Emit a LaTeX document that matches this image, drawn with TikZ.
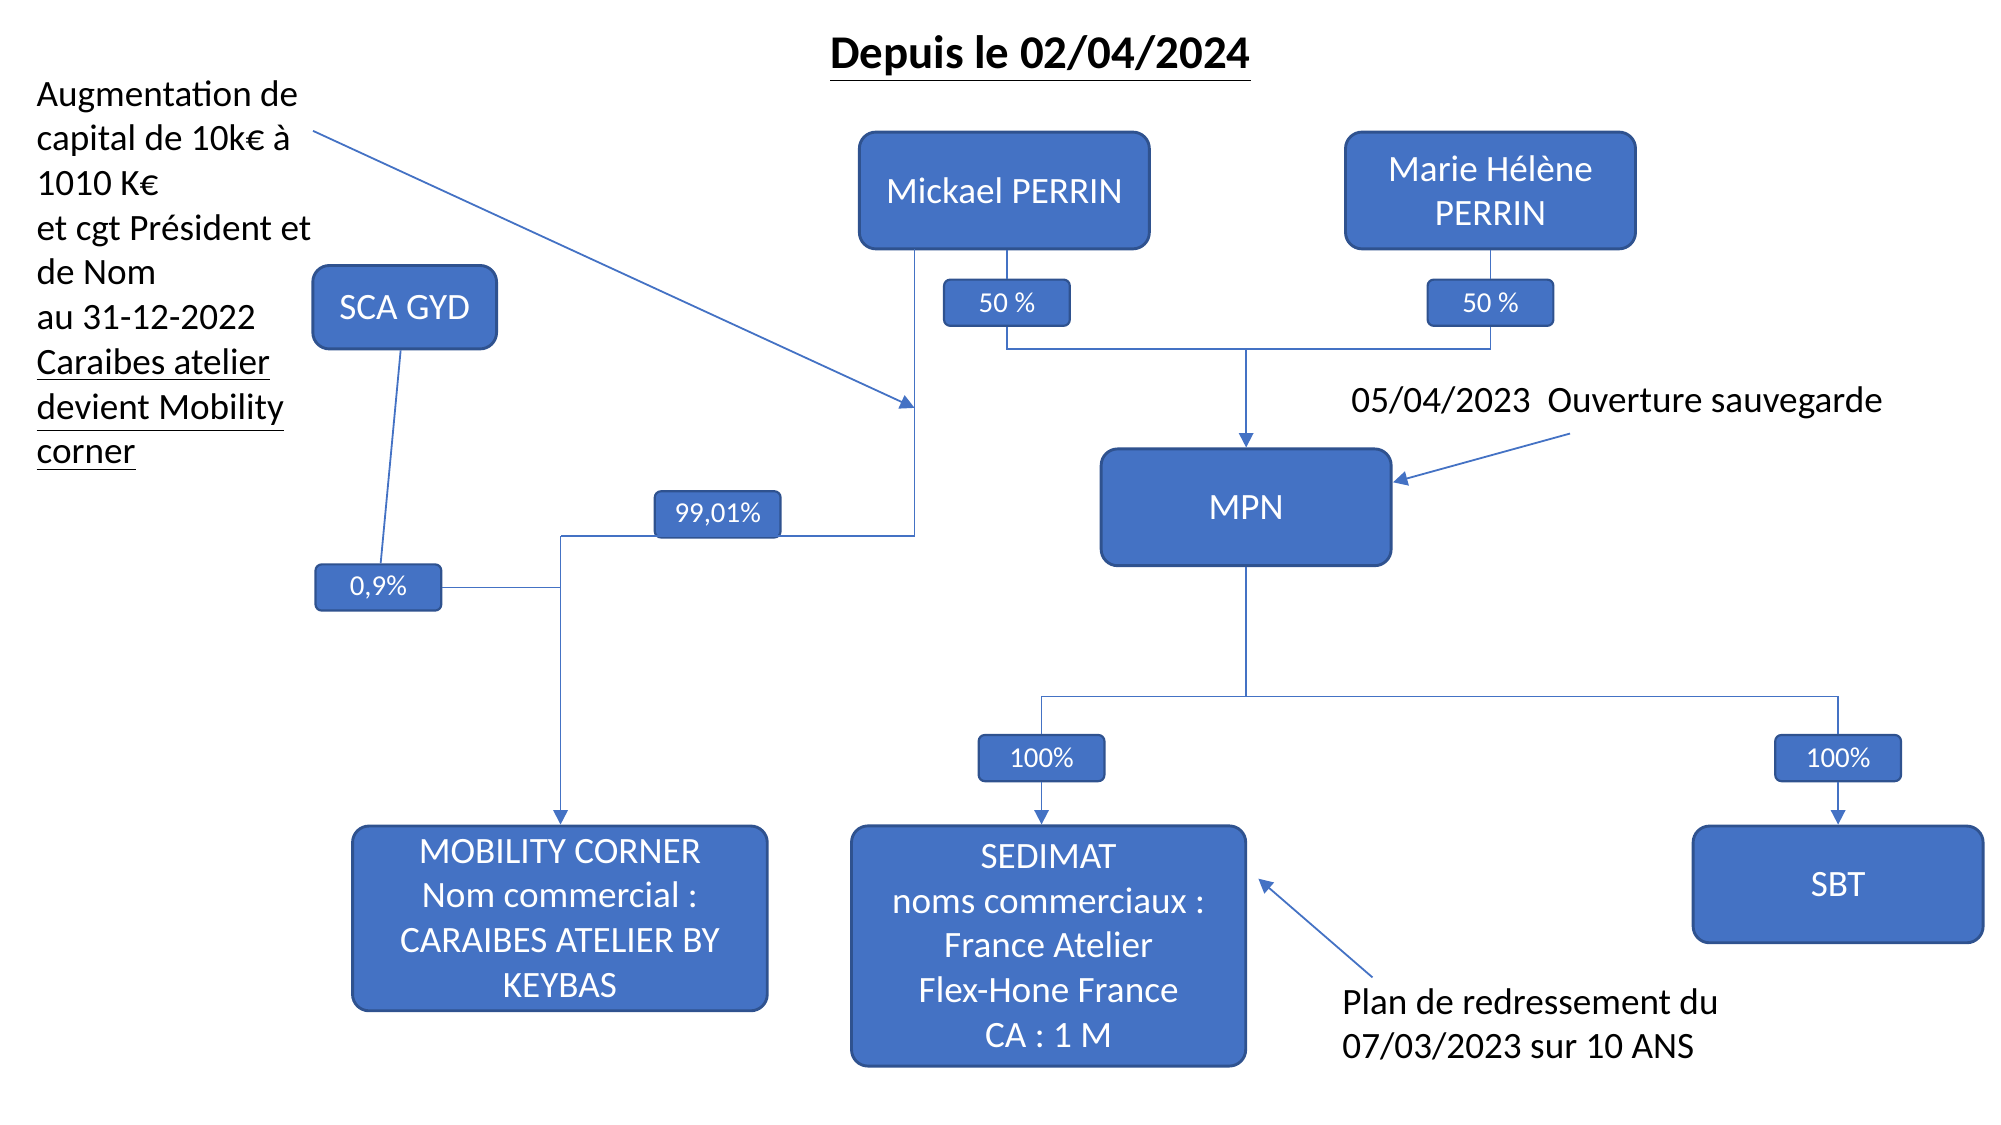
\documentclass[tikz,border=0pt]{standalone}
\usepackage{fontspec}
\setmainfont{Carlito}
\usetikzlibrary{arrows.meta,positioning}
\definecolor{boxblue}{RGB}{68,114,196}
\definecolor{boxedge}{RGB}{47,82,143}
\tikzset{
  ent/.style={draw=boxedge,line width=0.8pt,fill=boxblue,text=white,rounded corners=0.16cm,
    align=center,font=\fontsize{10.3}{12.4}\selectfont,inner sep=0pt},
  pct/.style={draw=boxedge,line width=0.6pt,fill=boxblue,text=white,rounded corners=0.06cm,
    minimum width=1.225cm,minimum height=0.45cm,inner sep=0pt,font=\fontsize{8}{9}\selectfont},
  note/.style={align=left,font=\fontsize{10.3}{12.4}\selectfont,inner sep=0pt},
  link/.style={draw=boxblue,line width=0.5pt},
  arr/.style={link,-{Triangle[length=4pt,width=4pt]}}
}
\begin{document}
\begin{tikzpicture}[x=0.0125cm,y=-0.0125cm]
\useasboundingbox (0,0) rectangle (1560,877);
% title
\node[font=\fontsize{13}{15}\selectfont\bfseries] (title) at (811,46) {\underline{Depuis le 02/04/2024}};
% shareholders
\node[ent,minimum width=2.825cm,minimum height=1.1375cm] (mick) at (783,148.5) {Mickael PERRIN};
\node[ent,minimum width=2.825cm,minimum height=1.1375cm] (marie) at (1162,148.5) {Marie Hélène\\PERRIN};
\node[ent,minimum width=1.79cm,minimum height=0.8125cm] (sca) at (315.5,239.5) {SCA GYD};
\node[ent,minimum width=2.825cm,minimum height=1.1375cm] (mpn) at (971.5,395.5) {MPN};
% subsidiaries
\node[ent,minimum width=4.04cm,minimum height=1.8cm] (mob) at (436.5,716) {MOBILITY CORNER\\Nom commercial :\\CARAIBES ATELIER BY\\KEYBAS};
\node[ent,minimum width=3.84cm,minimum height=2.34cm] (sedi) at (817.5,737.5) {SEDIMAT\\noms commerciaux :\\France Atelier\\Flex-Hone France\\CA : 1 M};
\node[ent,minimum width=2.825cm,minimum height=1.1375cm] (sbt) at (1433,689.5) {SBT};
% percentages
\node[pct] (p50a) at (785,236) {50 \%};
\node[pct] (p50b) at (1162,236) {50 \%};
\node[pct] (p99) at (559.5,401) {99,01\%};
\node[pct] (p09) at (295,458) {0,9\%};
\node[pct] (p100a) at (812,591) {100\%};
\node[pct] (p100b) at (1433,591) {100\%};
% junctions
\coordinate (jtop) at (971.5,272);
\coordinate (jmob) at (437,418);
\coordinate (jmick) at (713,194);
\coordinate (jsub) at (971.5,543);
% links
\draw[link] (mick.south -| p50a) -- (p50a);
\draw[link] (marie) -- (p50b);
\draw[link] (p50a.south) |- (jtop) -| (p50b.south);
\draw[arr] (jtop) -- (mpn.north);
\draw[link] (jmick) |- (jmob);
\draw[arr] (jmob) -- (jmob |- mob.north);
\draw[link] (sca) -- (p09);
\draw[link] (p09.east) -- (p09.east -| jmob);
\draw[link] (mpn.south) -- (jsub);
\draw[link] (p100a.north) |- (jsub) -| (p100b.north);
\draw[arr] (p100a) -- (p100a |- sedi.north);
\draw[arr] (p100b) -- (sbt.north);
% notes
\node[note,anchor=north west] (aug) at (28,62) {Augmentation de\\capital de 10k€ à\\1010 K€\\et cgt Président et\\de Nom\\au 31-12-2022\\\underline{Caraibes atelier}\\\underline{devient Mobility}\\\underline{corner}};
\node[note,anchor=west] (sauv) at (1053,314) {05/04/2023~~Ouverture sauvegarde};
\node[note,anchor=north west] (plan) at (1046,770) {Plan de redressement du\\07/03/2023 sur 10 ANS};
\coordinate (aaug) at (244,102);
\coordinate (asauv) at (1224,338);
\coordinate (aplan) at (1070,762);
\draw[arr] (aaug) -- (713,318);
\draw[arr] (asauv) -- (1086,376);
\draw[arr] (aplan) -- (981,685);
\end{tikzpicture}
\end{document}
